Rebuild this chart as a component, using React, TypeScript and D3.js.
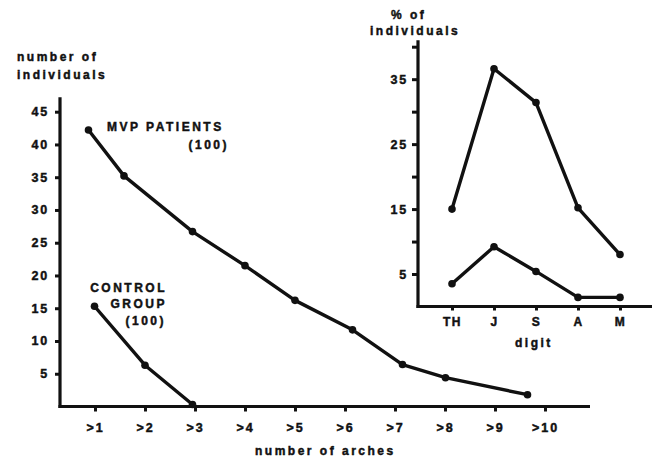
import { select, scaleLinear, scalePoint, axisLeft, axisBottom, line } from "d3";
import React, { useEffect, useRef } from "react";

// main chart: number of individuals with at least n arches
const archTicks = [1, 2, 3, 4, 5, 6, 7, 8, 9, 10];
const archLabels = [">1", ">2", ">3", ">4", ">5", ">6", ">7", ">8", ">9", ">10"];
// x positions as drawn in the figure (in arch units), and values
const mvpPos = [0.87, 1.58, 2.95, 4.0, 5.0, 6.15, 7.15, 8.01, 9.65];
const mvpValues = [42.2, 35.2, 26.7, 21.5, 16.2, 11.7, 6.4, 4.4, 1.8];
const controlPos = [0.99, 2.0, 2.95];
const controlValues = [15.3, 6.3, 0.3];
const mainYTicks = [5, 10, 15, 20, 25, 30, 35, 40, 45];

// inset: % of individuals by digit
const digits = ["TH", "J", "S", "A", "M"];
const insetUpper = [15.0, 36.6, 31.4, 15.2, 8.0];
const insetLower = [3.5, 9.2, 5.4, 1.4, 1.4];
const insetYTicks = [5, 10, 15, 20, 25, 30, 35, 40];
const insetYLabels = [5, 15, 25, 35];

const INK = "#111";
const FONT = "'Liberation Sans', Arial, sans-serif";

export default function App() {
    const svgRef = useRef<SVGSVGElement | null>(null);

    useEffect(() => {
        const svg = select(svgRef.current);
        svg.selectAll("*").remove();

        // scales
        const mainLeft = 60;
        const xMain = scaleLinear().domain([1, 10]).range([95, 545]);
        const yMain = scaleLinear().domain([0, 45]).range([406.5, 111.7]);
        const insetLeft = 418;
        const xInset = scalePoint<string>().domain(digits).range([452, 620]);
        const yInset = scaleLinear().domain([0, 40]).range([306.5, 46.7]);

        // photocopied look: bold text with a thin outline
        const styleText = (sel: any, size = 12, spacing = 2) =>
            sel.attr("font-family", FONT)
                .attr("font-weight", "bold")
                .attr("font-size", size)
                .attr("letter-spacing", spacing)
                .attr("fill", INK)
                .attr("stroke", INK)
                .attr("stroke-width", 0.45);

        /* main axes */
        const gy = svg.append("g")
            .attr("transform", `translate(${mainLeft},0)`)
            .call(axisLeft(yMain).tickValues(mainYTicks).tickSize(5).tickPadding(6).tickSizeOuter(0));
        gy.select(".domain").remove();
        gy.selectAll("line").attr("stroke", INK).attr("stroke-width", 3);
        styleText(gy.selectAll("text"), 12.5, 1.8);

        const gx = svg.append("g")
            .attr("transform", `translate(0,${yMain(0)})`)
            .call(axisBottom(xMain).tickValues(archTicks).tickFormat((d, i) => archLabels[i]).tickSize(5).tickPadding(12).tickSizeOuter(0));
        gx.select(".domain").remove();
        gx.selectAll("line").attr("stroke", INK).attr("stroke-width", 3);
        styleText(gx.selectAll("text"), 12.5, 2);

        svg.append("line")
            .attr("x1", mainLeft).attr("x2", mainLeft)
            .attr("y1", yMain(0) + 1.5).attr("y2", yMain(47.2))
            .attr("stroke", INK).attr("stroke-width", 3.2);
        svg.append("line")
            .attr("x1", mainLeft - 1.5).attr("x2", xMain(10.9))
            .attr("y1", yMain(0)).attr("y2", yMain(0))
            .attr("stroke", INK).attr("stroke-width", 3.2);

        /* main series */
        const mainSeries = [
            mvpPos.map((p, i) => [xMain(p), yMain(mvpValues[i])]),
            controlPos.map((p, i) => [xMain(p), yMain(controlValues[i])]),
        ];

        /* inset axes */
        const giy = svg.append("g")
            .attr("transform", `translate(${insetLeft},0)`)
            .call(axisLeft(yInset).tickValues(insetYTicks).tickSize(6).tickPadding(4).tickSizeOuter(0)
                .tickFormat((d: any) => (insetYLabels.includes(d) ? String(d) : "")));
        giy.select(".domain").remove();
        giy.selectAll("line").attr("stroke", INK).attr("stroke-width", 3);
        styleText(giy.selectAll("text"), 12.5, 1.8);

        const gix = svg.append("g")
            .attr("transform", `translate(0,${yInset(0)})`)
            .call(axisBottom(xInset).tickSize(4).tickPadding(7).tickSizeOuter(0));
        gix.select(".domain").remove();
        gix.selectAll("line").attr("stroke", INK).attr("stroke-width", 3);
        styleText(gix.selectAll("text"), 12, 1.5);

        svg.append("line")
            .attr("x1", insetLeft).attr("x2", insetLeft)
            .attr("y1", yInset(0) + 1.5).attr("y2", yInset(41))
            .attr("stroke", INK).attr("stroke-width", 3.2);
        svg.append("line")
            .attr("x1", insetLeft - 1.5).attr("x2", 652)
            .attr("y1", yInset(0)).attr("y2", yInset(0))
            .attr("stroke", INK).attr("stroke-width", 3.2);

        const insetSeries = [
            digits.map((d, i) => [xInset(d) as number, yInset(insetUpper[i])]),
            digits.map((d, i) => [xInset(d) as number, yInset(insetLower[i])]),
        ];

        const path = line();
        const allSeries = [...mainSeries, ...insetSeries];
        svg.selectAll(".series")
            .data(allSeries)
            .join("path")
            .attr("class", "series")
            .attr("d", (d: any) => path(d))
            .attr("fill", "none")
            .attr("stroke", INK)
            .attr("stroke-width", 3.4)
            .attr("stroke-linejoin", "round");

        svg.selectAll(".dot")
            .data(allSeries.flat())
            .join("circle")
            .attr("class", "dot")
            .attr("cx", (d: any) => d[0])
            .attr("cy", (d: any) => d[1])
            .attr("r", 3.8)
            .attr("fill", INK);

        /* labels */
        const label = (txt: string, x: number, y: number, anchor = "start", spacing = 2.5) =>
            styleText(svg.append("text"), 12, spacing)
                .attr("x", x).attr("y", y)
                .attr("text-anchor", anchor)
                .text(txt);

        label("number of", 17, 61);
        label("individuals", 17, 79);
        label("number of arches", 255, 455);
        label("% of", 391, 19);
        label("individuals", 370, 35);
        label("digit", 515, 347);
        label("MVP PATIENTS", 107, 131);
        label("(100)", 229, 149, "end");
        label("CONTROL", 167, 292, "end");
        label("GROUP", 167, 308, "end");
        label("(100)", 166, 325, "end");
    }, []);

    return (
        <svg
            ref={svgRef}
            xmlns="http://www.w3.org/2000/svg"
            width="655"
            height="458"
            viewBox="0 0 655 458"
            style={{ position: "absolute", left: 0, top: 0, background: "#fff" }}
        ></svg>
    );
}
